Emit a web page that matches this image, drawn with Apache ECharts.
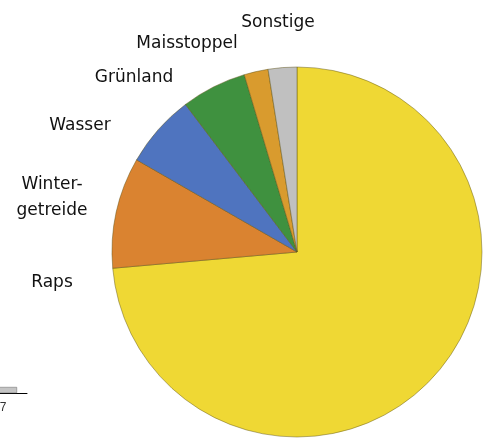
<!DOCTYPE html>
<html>
<head>
<meta charset="utf-8">
<script src="https://cdn.jsdelivr.net/npm/echarts@6/dist/echarts.min.js"></script>
<style>
  html, body { margin: 0; padding: 0; background: #fff; }
  #chart { width: 484px; height: 439px; }
</style>
</head>
<body>
<div id="chart"></div>
<script>
// Flächenanteile (Prozent), im Uhrzeigersinn ab 12 Uhr
var landNames = ['Raps', 'Winter-\ngetreide', 'Wasser', 'Grünland', 'Maisstoppel', 'Sonstige'];
var landShares = [73.6, 9.7, 6.4, 5.7, 2.1, 2.5];

// Rest des Nachbardiagramms unten links
var fragmentCategories = ['7'];
var fragmentValues = [0.6];

var sliceColors = ['#efd834', '#da8330', '#4f74bf', '#3f913f', '#d99b2e', '#c0c0c0'];
// Position der Beschriftungen (Pixel)
var labelSpots = [[52, 283], [52, 198], [80, 126], [134, 78], [187, 44], [278, 23]];

var chart = echarts.init(document.getElementById('chart'));

var pieData = landNames.map(function (n, i) {
    return { name: n, value: landShares[i], itemStyle: { color: sliceColors[i] } };
});

var option = {
    animation: false,
    textStyle: { fontFamily: 'DejaVu Sans' },
    grid: { left: -21, width: 48, bottom: 46, height: 100, outerBoundsMode: 'none', containLabel: false },
    xAxis: {
        type: 'category',
        data: fragmentCategories,
        axisLine: { lineStyle: { color: '#000', width: 1 } },
        axisTick: { alignWithLabel: true, length: 5, lineStyle: { color: '#000' } },
        axisLabel: { color: '#333', fontSize: 12, fontFamily: 'Liberation Sans', margin: 9 }
    },
    yAxis: { type: 'value', min: 0, max: 10, show: false },
    series: [
        {
            type: 'bar',
            data: fragmentValues,
            barWidth: 28,
            itemStyle: { color: '#c4c4c4', borderColor: '#666', borderWidth: 0.5 }
        },
        {
            type: 'pie',
            center: [297, 252],
            radius: 185,
            startAngle: 90,
            clockwise: true,
            data: pieData,
            itemStyle: { borderColor: 'rgba(90,80,20,0.45)', borderWidth: 1 },
            label: {
                show: true,
                position: 'outside',
                color: '#111',
                fontSize: 17,
                lineHeight: 26,
                width: 200,
                overflow: 'none',
                fontFamily: 'DejaVu Sans'
            },
            labelLine: { show: false },
            labelLayout: function (params) {
                var p = labelSpots[params.dataIndex];
                return { x: p[0], y: p[1], align: 'center', verticalAlign: 'middle' };
            },
            emphasis: { disabled: true }
        }
    ]
};
chart.setOption(option);
</script>
</body>
</html>
